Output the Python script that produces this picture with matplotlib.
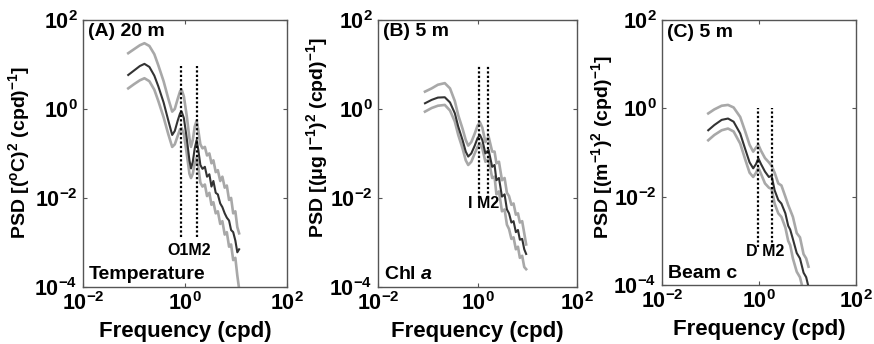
import numpy as np
import matplotlib
matplotlib.use("Agg")
import matplotlib.pyplot as plt

plt.rcParams["font.family"] = ["Liberation Sans", "DejaVu Sans"]
plt.rcParams["font.weight"] = "bold"
plt.rcParams["mathtext.fontset"] = "custom"
plt.rcParams["mathtext.rm"] = "Liberation Sans:bold"
plt.rcParams["mathtext.bf"] = "Liberation Sans:bold"
plt.rcParams["mathtext.it"] = "Liberation Sans:italic:bold"

# (A) temperature, 20 m
fA = [0.077, 0.10, 0.13, 0.16, 0.20, 0.25, 0.30, 0.38, 0.47, 0.56, 0.63, 0.72, 0.80, 0.86,
      0.95, 1.08, 1.22, 1.31, 1.42, 1.55, 1.69, 1.82, 2.0, 2.2, 2.45, 2.7, 3.0, 3.3,
      3.6, 4.0, 4.4, 4.9, 5.4, 6.0, 6.6, 7.3, 8.0, 8.8, 9.7, 10.6, 11.5]
meanA = [5.8, 7.3, 9.2, 10.3, 8.8, 5.6, 3.2, 1.4, 0.55, 0.26, 0.32, 0.55, 0.80, 0.87,
         0.62, 0.22, 0.07, 0.046, 0.065, 0.13, 0.20, 0.12, 0.055, 0.045, 0.05, 0.03, 0.034, 0.018,
         0.024, 0.013, 0.012, 0.0075, 0.0062, 0.0045, 0.0036, 0.0031, 0.0019, 0.0017, 0.0011, 0.0006, 0.0007]
upperA = [17.9, 22, 27, 30, 26, 17, 9.5, 4.2, 1.7, 0.87, 1.0, 1.7, 2.5, 2.7,
          1.9, 0.7, 0.22, 0.14, 0.2, 0.4, 0.55, 0.33, 0.16, 0.13, 0.14, 0.09, 0.10, 0.06,
          0.07, 0.038, 0.042, 0.024, 0.03, 0.017, 0.019, 0.009, 0.010, 0.0045, 0.005, 0.0022, 0.0016]
lowerA = [2.9, 3.6, 4.4, 4.9, 4.2, 2.7, 1.5, 0.65, 0.27, 0.14, 0.16, 0.25, 0.35, 0.37,
          0.27, 0.1, 0.035, 0.028, 0.035, 0.06, 0.08, 0.05, 0.022, 0.018, 0.02, 0.011, 0.013, 0.007,
          0.008, 0.0045, 0.005, 0.0026, 0.003, 0.0015, 0.0017, 0.0008, 0.0009, 0.0004, 0.00045, 0.00018, 0.00009]

# (B) chl a, 5 m
fB = [0.088, 0.12, 0.16, 0.22, 0.28, 0.35, 0.41, 0.50, 0.58, 0.65, 0.75, 0.88, 1.0, 1.12,
      1.25, 1.44, 1.67, 1.97, 2.2, 2.4, 2.7, 3.1, 3.5, 3.9, 4.3, 4.8, 5.3, 5.9, 6.5,
      7.1, 7.9, 8.7, 9.5]
meanB = [1.34, 1.6, 1.8, 1.83, 1.4, 0.8, 0.40, 0.2, 0.11, 0.085, 0.1, 0.15, 0.22, 0.26,
         0.2, 0.10, 0.12, 0.05, 0.055, 0.025, 0.028, 0.0107, 0.012, 0.0055, 0.0045, 0.0028, 0.0030, 0.0017, 0.0019,
         0.00115, 0.0012, 0.0007, 0.00055]
upperB = [2.45, 2.9, 3.5, 3.8, 2.9, 1.5, 0.72, 0.36, 0.2, 0.15, 0.18, 0.28, 0.42, 0.50,
          0.38, 0.18, 0.24, 0.11, 0.11, 0.06, 0.065, 0.025, 0.028, 0.013, 0.011, 0.007, 0.0075, 0.0042, 0.0045,
          0.0028, 0.003, 0.0016, 0.0009]
lowerB = [0.87, 1.05, 1.18, 1.23, 0.92, 0.52, 0.26, 0.13, 0.07, 0.055, 0.065, 0.1, 0.14, 0.17,
          0.13, 0.065, 0.075, 0.028, 0.03, 0.012, 0.014, 0.005, 0.0055, 0.0025, 0.002, 0.0012, 0.0013, 0.0007, 0.0008,
          0.00045, 0.0005, 0.00028, 0.00025]

# (C) beam c, 5 m
fC = [0.090, 0.12, 0.17, 0.23, 0.30, 0.41, 0.52, 0.64, 0.76, 0.87, 0.97, 1.1, 1.33,
      1.6, 1.82, 2.1, 2.5, 2.9, 3.5, 4.0, 4.4, 5.0, 6.0, 7.0, 8.3, 9.4, 10.5]
meanC = [0.32, 0.42, 0.55, 0.59, 0.5, 0.27, 0.12, 0.06, 0.044, 0.055, 0.074, 0.055, 0.037,
         0.028, 0.030, 0.014, 0.0084, 0.0070, 0.0042, 0.0022, 0.0018, 0.0011, 0.00053, 0.0004, 0.00019, 0.00015, 0.00009]
upperC = [0.77, 0.95, 1.15, 1.2, 1.05, 0.64, 0.3, 0.15, 0.105, 0.13, 0.15, 0.11, 0.075,
          0.06, 0.05, 0.035, 0.02, 0.018, 0.01, 0.0065, 0.005, 0.0035, 0.0015, 0.0012, 0.0005, 0.0004, 0.00026]
lowerC = [0.19, 0.25, 0.32, 0.35, 0.3, 0.16, 0.07, 0.035, 0.028, 0.035, 0.045, 0.033, 0.02,
          0.016, 0.015, 0.007, 0.0042, 0.0035, 0.002, 0.001, 0.0008, 0.0004, 0.0002, 0.00015, 0.00007, 0.00005, 0.00003]

# tidal / inertial lines
linesA = [0.82, 1.72]
linesB = [1.07, 1.60]
linesC = [0.97, 1.88]

panels = [
    dict(f=fA, m=meanA, u=upperA, l=lowerA, lines=linesA, yl=(1.3e-3, 9),
         lab="O1M2", laby=6.5e-4,
         title="(A) 20 m", name="Temperature",
         ylabel=r"PSD [($^{\rm o}$C)$^2$ (cpd)$^{-1}$]",
         pos=[0.095, 0.166, 0.2334, 0.776], ylc=(-0.25, 0.505)),
    dict(f=fB, m=meanB, u=upperB, l=lowerB, lines=linesB, yl=(1.0e-2, 9),
         lab="I M2", laby=7.4e-3,
         title="(B) 5 m", name=r"Chl $\it{a}$",
         ylabel=r"PSD [(μg l$^{-1}$)$^2$ (cpd)$^{-1}$]",
         pos=[0.4325, 0.166, 0.2277, 0.776], ylc=(-0.241, 0.56)),
    dict(f=fC, m=meanC, u=upperC, l=lowerC, lines=linesC, yl=(7.4e-4, 1.0),
         lab="D M2", laby=5.6e-4,
         title="(C) 5 m", name="Beam c",
         ylabel=r"PSD [(m$^{-1}$)$^2$ (cpd)$^{-1}$]",
         pos=[0.7574, 0.1715, 0.222, 0.770], ylc=(-0.242, 0.52)),
]

fig = plt.figure(figsize=(8.74, 3.44), dpi=100)

for p in panels:
    ax = fig.add_axes(p["pos"])
    ax.loglog(p["f"], p["u"], color="#a8a8a8", lw=1.9, zorder=2)
    ax.loglog(p["f"], p["l"], color="#a8a8a8", lw=1.9, zorder=2)
    ax.loglog(p["f"], p["m"], color="#333333", lw=1.5, zorder=3)
    for x in p["lines"]:
        ax.plot([x, x], p["yl"], color="black", ls=(0, (1, 1)), lw=1.6, zorder=4)
    xc = np.sqrt(p["lines"][0] * p["lines"][1])
    ax.text(xc, p["laby"], p["lab"], ha="center", va="center", fontsize=11.5, fontweight="bold")

    ax.set_xlim(1e-2, 1e2)
    ax.set_ylim(1e-4, 1e2)
    ax.set_xticks([1e-2, 1e0, 1e2])
    ax.set_yticks([1e-4, 1e-2, 1e0, 1e2])
    ax.minorticks_off()
    ax.tick_params(direction="in", top=True, right=True, length=3, width=0.8,
                   color="#555555", labelsize=15.5, pad=4)
    for s in ax.spines.values():
        s.set_color("#555555")
        s.set_linewidth(1.0)

    ax.text(0.025, 0.955, p["title"], transform=ax.transAxes, ha="left", va="center",
            fontsize=14, fontweight="bold")
    ax.text(0.03, 0.045, p["name"], transform=ax.transAxes, ha="left", va="center",
            fontsize=14, fontweight="bold")

    ax.set_xlabel("Frequency (cpd)", fontsize=16, fontweight="bold")
    ax.xaxis.set_label_coords(0.5, -0.128)
    ax.set_ylabel(p["ylabel"], fontsize=14, fontweight="bold")
    ax.yaxis.set_label_coords(*p["ylc"])

plt.savefig("out.png", dpi=100)
